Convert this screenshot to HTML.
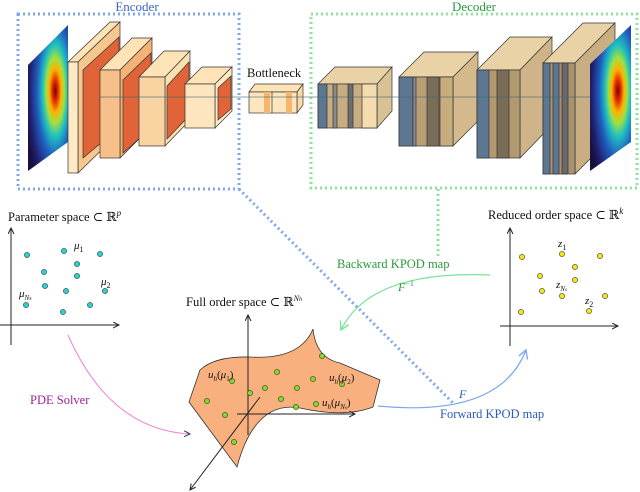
<!DOCTYPE html>
<html><head><meta charset="utf-8"><style>
html,body{margin:0;padding:0;background:#fff;}
svg{display:block;font-family:"Liberation Serif","DejaVu Serif",serif;}
</style></head><body>
<svg width="640" height="492" viewBox="0 0 640 492" xmlns="http://www.w3.org/2000/svg">
<defs>
<radialGradient id="jet" cx="0.68" cy="0.45" r="0.75">
<stop offset="0" stop-color="#7a0000"/><stop offset="0.1" stop-color="#e03000"/><stop offset="0.2" stop-color="#ffb000"/><stop offset="0.3" stop-color="#a0e040"/><stop offset="0.42" stop-color="#20c0c0"/><stop offset="0.6" stop-color="#2060c0"/><stop offset="0.85" stop-color="#202070"/><stop offset="1" stop-color="#1a1040"/>
</radialGradient>
<marker id="ak" markerWidth="8" markerHeight="8" refX="6" refY="3" orient="auto"><path d="M0,0 L6,3 L0,6" fill="none" stroke="#222" stroke-width="1"/></marker>
<marker id="ap" markerWidth="8" markerHeight="8" refX="6" refY="3" orient="auto"><path d="M0,0 L6,3 L0,6" fill="none" stroke="#333" stroke-width="1"/></marker>
<marker id="ag" markerWidth="10" markerHeight="10" refX="7" refY="4" orient="auto"><path d="M0,0 L7,4 L0,8" fill="none" stroke="#7be39a" stroke-width="1.2"/></marker>
<marker id="ab" markerWidth="10" markerHeight="10" refX="7" refY="4" orient="auto"><path d="M0,0 L7,4 L0,8" fill="none" stroke="#7fa8ec" stroke-width="1.2"/></marker>
</defs>

<text x="137" y="11" font-size="13" fill="#3a64c8" text-anchor="middle">Encoder</text>
<text x="474" y="11" font-size="13" fill="#2a9a3a" text-anchor="middle">Decoder</text>
<rect x="18" y="14" width="221" height="175" fill="none" stroke="#7fa8ec" stroke-width="3" stroke-dasharray="2,3"/>
<rect x="311" y="14" width="326" height="174" fill="none" stroke="#8be69a" stroke-width="3" stroke-dasharray="2,3"/>
<line x1="239" y1="189" x2="453" y2="403" stroke="#7fa8ec" stroke-width="3" stroke-dasharray="2,3"/>
<line x1="438" y1="189" x2="438" y2="256" stroke="#8be69a" stroke-width="3" stroke-dasharray="2,3"/>

<polygon points="28,65 68,25 68,142 28,171" fill="url(#jet)"/>

<!-- encoder blocks -->
<g stroke="#333" stroke-width="0.7">
<polygon points="68,62 110,22 120,22 78,62" fill="#fde3b5"/>
<polygon points="78,62 120,22 120,132 78,173" fill="#f7c78e"/>
<rect x="68" y="62" width="10" height="111" fill="#fde9c4"/>
<polygon points="83,70 119,37 119,128 83,158" fill="#e06438"/>
<polygon points="100,70 132,38 152,38 120,70" fill="#fde3b5"/>
<polygon points="120,70 152,38 152,126 120,158" fill="#f4b277"/>
<rect x="100" y="70" width="20" height="88" fill="#f7c08a"/>
<polygon points="123,80 151,53 151,128 123,153" fill="#e06438"/>
<polygon points="139,77 164,51 190,51 165,77" fill="#fde3b5"/>
<polygon points="165,77 190,51 190,120 165,146" fill="#fbe0b0"/>
<rect x="139" y="77" width="26" height="69" fill="#f9d3a2"/>
<polygon points="167,86 189,62 189,116 167,139" fill="#e06438"/>
<polygon points="185,84 202,67 232,67 215,84" fill="#fde3b5"/>
<polygon points="215,84 232,67 232,111 215,128" fill="#fde9c4"/>
<rect x="185" y="84" width="30" height="44" fill="#fde6bd"/>
<polygon points="218,88 231,76 231,109 218,120" fill="#e06438"/>
<polygon points="249,92 255,84 303,84 297,92" fill="#fde3b5"/>
<polygon points="297,92 303,84 303,105 297,113" fill="#fbd9a5"/>
<rect x="249" y="92" width="48" height="21" fill="#fde6bd"/>
<rect x="264" y="92" width="6" height="21" fill="#f7b66e" stroke="none"/>
<rect x="286" y="92" width="6" height="21" fill="#f7b66e" stroke="none"/>
<line x1="272" y1="92" x2="272" y2="113"/>
</g>
<text x="247" y="77" font-size="12.5" fill="#111">Bottleneck</text>

<!-- decoder blocks -->
<g stroke="#333" stroke-width="0.7">
<polygon points="318,84 335,67 392,67 377,84" fill="#e9d3a6"/>
<polygon points="377,84 392,67 392,111 377,128" fill="#d9c196"/>
<rect x="318" y="84" width="59" height="44" fill="#c9ad82"/>
<rect x="318" y="84" width="9" height="44" fill="#5d7792"/>
<rect x="333" y="84" width="4" height="44" fill="#8a8a8a"/>
<rect x="348" y="84" width="5" height="44" fill="#6e6e6e"/>
<rect x="362" y="84" width="15" height="44" fill="#f5dcae"/>

<polygon points="399,77 424,52 478,52 453,77" fill="#e9d3a6"/>
<polygon points="453,77 478,52 478,121 453,146" fill="#d3b98c"/>
<rect x="399" y="77" width="54" height="69" fill="#b99f75"/>
<rect x="399" y="77" width="14" height="69" fill="#5d7792"/>
<rect x="413" y="77" width="3" height="69" fill="#8a8a8a"/>
<rect x="427" y="77" width="12" height="69" fill="#7a6d58"/>
<rect x="440" y="77" width="13" height="69" fill="#c7ac80"/>

<polygon points="477,70 510,37 552,37 520,70" fill="#e9d3a6"/>
<polygon points="520,70 552,37 552,125 520,158" fill="#cfb489"/>
<rect x="477" y="70" width="43" height="88" fill="#b39970"/>
<rect x="477" y="70" width="12" height="88" fill="#5d7792"/>
<rect x="497" y="70" width="12" height="88" fill="#7a6d58"/>

<polygon points="543,63 583,23 615,23 575,63" fill="#e9d3a6"/>
<polygon points="575,63 615,23 615,134 575,174" fill="#c9ae84"/>
<rect x="543" y="63" width="32" height="111" fill="#a99270"/>
<rect x="543" y="63" width="7" height="111" fill="#5d7792"/>
<rect x="553" y="63" width="6" height="111" fill="#5d7792"/>
<rect x="562" y="63" width="6" height="111" fill="#6a6a6a"/>
</g>
<line x1="100" y1="97" x2="590" y2="97" stroke="#3c6a70" stroke-width="0.8" stroke-opacity="0.8"/>
<polygon points="590,64 631,25 631,142 590,171" fill="url(#jet)"/>

<!-- parameter space -->
<text x="8" y="221" font-size="12.5" fill="#111">Parameter space ⊂ ℝ<tspan font-size="9" dy="-5" font-style="italic">p</tspan></text>
<line x1="11" y1="345" x2="11" y2="228" stroke="#222" marker-end="url(#ak)"/>
<line x1="0" y1="325" x2="119" y2="325" stroke="#222" marker-end="url(#ak)"/>
<g fill="#22d6d8" stroke="#333" stroke-width="0.6">
<circle cx="27" cy="255" r="2.6"/><circle cx="64" cy="251" r="2.6"/><circle cx="100" cy="254" r="2.6"/><circle cx="77" cy="264" r="2.6"/><circle cx="44" cy="272" r="2.6"/><circle cx="77" cy="276" r="2.6"/><circle cx="45" cy="286" r="2.6"/><circle cx="66" cy="291" r="2.6"/><circle cx="105" cy="291" r="2.6"/><circle cx="26" cy="305" r="2.6"/><circle cx="90" cy="305" r="2.6"/><circle cx="63" cy="312" r="2.6"/>
</g>
<g font-size="11" font-style="italic" fill="#111">
<text x="74" y="249">μ<tspan font-size="8" dy="3" font-style="normal">1</tspan></text>
<text x="101" y="285">μ<tspan font-size="8" dy="3" font-style="normal">2</tspan></text>
<text x="19" y="297">μ<tspan font-size="7" dy="3">N<tspan font-size="6">s</tspan></tspan></text>
</g>
<text x="30" y="404" font-size="12.5" fill="#a0209a">PDE Solver</text>
<path d="M68,335 Q110,430 190,434" fill="none" stroke="#ee82d8" stroke-width="1" marker-end="url(#ap)"/>

<!-- full order space -->
<text x="186" y="306" font-size="12.5" fill="#111">Full order space ⊂ ℝ<tspan font-size="8" dy="-5" font-style="italic">N<tspan font-size="6">h</tspan></tspan></text>
<path d="M189,402 L200,370 Q215,356 250,357 Q300,360 313,329 Q316,358 340,363 L380,380 L373,407 Q345,418 300,408 Q255,400 237,467 Z" fill="#f9b07f" stroke="#333" stroke-width="0.8"/>
<line x1="248" y1="435" x2="248" y2="315" stroke="#222" marker-end="url(#ak)"/>
<line x1="237" y1="414" x2="355" y2="414" stroke="#222" marker-end="url(#ak)"/>
<line x1="260" y1="397" x2="190" y2="490" stroke="#222" marker-end="url(#ak)"/>
<g fill="#7be020" stroke="#333" stroke-width="0.6">
<circle cx="322" cy="356" r="2.6"/><circle cx="277" cy="372" r="2.6"/><circle cx="232" cy="381" r="2.6"/><circle cx="313" cy="379" r="2.6"/><circle cx="265" cy="388" r="2.6"/><circle cx="297" cy="388" r="2.6"/><circle cx="342" cy="384" r="2.6"/><circle cx="250" cy="393" r="2.6"/><circle cx="207" cy="401" r="2.6"/><circle cx="281" cy="399" r="2.6"/><circle cx="296" cy="407" r="2.6"/><circle cx="316" cy="404" r="2.6"/><circle cx="225" cy="415" r="2.6"/><circle cx="234" cy="442" r="2.6"/>
</g>
<g font-size="11" font-style="italic" fill="#111">
<text x="208" y="378">u<tspan font-size="7" dy="3">h</tspan><tspan dy="-3" font-style="normal">(</tspan>μ<tspan font-size="7" dy="3" font-style="normal">1</tspan><tspan dy="-3" font-style="normal">)</tspan></text>
<text x="329" y="381">u<tspan font-size="7" dy="3">h</tspan><tspan dy="-3" font-style="normal">(</tspan>μ<tspan font-size="7" dy="3" font-style="normal">2</tspan><tspan dy="-3" font-style="normal">)</tspan></text>
<text x="322" y="406">u<tspan font-size="7" dy="3">h</tspan><tspan dy="-3" font-style="normal">(</tspan>μ<tspan font-size="7" dy="3">N<tspan font-size="5">s</tspan></tspan><tspan dy="-3" font-style="normal">)</tspan></text>
</g>

<!-- reduced order space -->
<text x="488" y="219" font-size="12.5" fill="#111">Reduced order space ⊂ ℝ<tspan font-size="9" dy="-5" font-style="italic">k</tspan></text>
<line x1="510" y1="346" x2="510" y2="228" stroke="#222" marker-end="url(#ak)"/>
<line x1="500" y1="326" x2="618" y2="326" stroke="#222" marker-end="url(#ak)"/>
<g fill="#f2ea10" stroke="#333" stroke-width="0.6">
<circle cx="522" cy="257" r="2.6"/><circle cx="562" cy="254" r="2.6"/><circle cx="600" cy="256" r="2.6"/><circle cx="575" cy="267" r="2.6"/><circle cx="540" cy="276" r="2.6"/><circle cx="575" cy="280" r="2.6"/><circle cx="542" cy="291" r="2.6"/><circle cx="562" cy="296" r="2.6"/><circle cx="605" cy="296" r="2.6"/><circle cx="521" cy="312" r="2.6"/><circle cx="589" cy="311" r="2.6"/>
</g>
<g font-size="11" font-style="italic" fill="#111">
<text x="558" y="247">z<tspan font-size="8" dy="3" font-style="normal">1</tspan></text>
<text x="556" y="288">z<tspan font-size="7" dy="3">N<tspan font-size="5">s</tspan></tspan></text>
<text x="585" y="304">z<tspan font-size="8" dy="3" font-style="normal">2</tspan></text>
</g>

<path d="M490,275 Q370,270 341,330" fill="none" stroke="#7be39a" stroke-width="1.2" marker-end="url(#ag)"/>
<text x="337" y="268" font-size="12.5" fill="#2a9a3a">Backward KPOD map</text>
<text x="398" y="291" font-size="12" font-style="italic" fill="#2a9a3a">F<tspan font-size="8" dy="-5" font-style="normal">−1</tspan></text>
<path d="M378,406 Q500,418 526,350" fill="none" stroke="#7fa8ec" stroke-width="1.2" marker-end="url(#ab)"/>
<text x="440" y="418" font-size="12.5" fill="#2a5ac0">Forward KPOD map</text>
<text x="459" y="398" font-size="12" font-style="italic" fill="#2a5ac0">F</text>
</svg>
</body></html>
